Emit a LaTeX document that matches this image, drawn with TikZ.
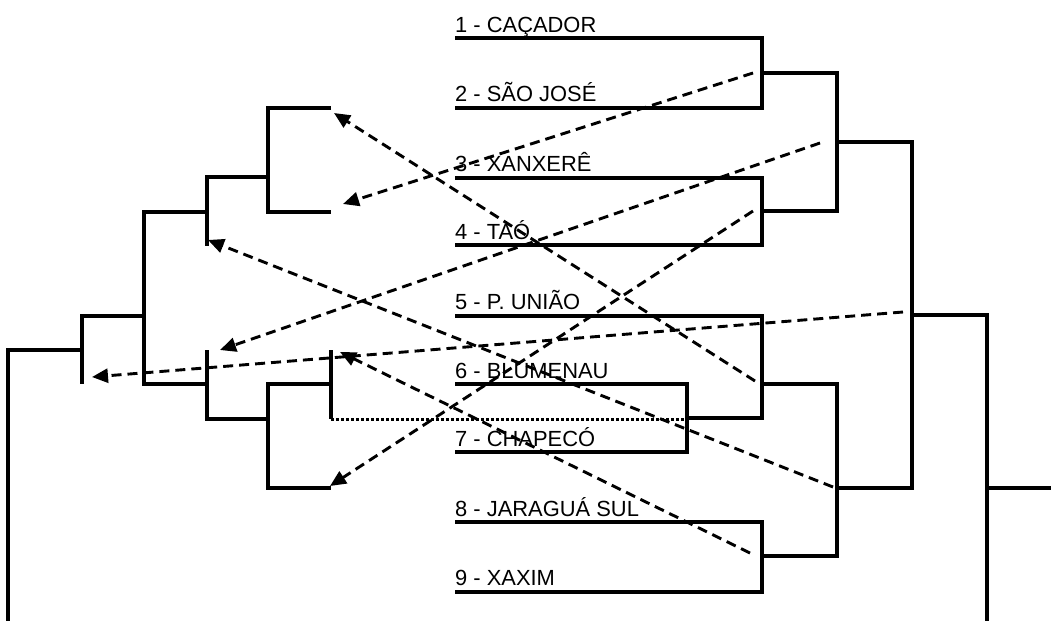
\documentclass[tikz,border=0pt]{standalone}
\usepackage{fontspec}
\setmainfont{Liberation Sans}
\usetikzlibrary{arrows.meta}
\begin{document}
\begin{tikzpicture}[x=1pt,y=-1pt,
  tree/.style={line width=3.4pt,line join=miter},
  move/.style={line width=2.9pt,dash pattern=on 10pt off 6pt,-{Triangle[length=16pt,width=14pt]}},
  dotline/.style={line width=3pt,dash pattern=on 3pt off 2pt},
  lbl/.style={inner sep=0pt,anchor=base west,font=\fontsize{21.9}{26}\selectfont}]
\useasboundingbox (0,0) rectangle (1051,621);
% labels
\node[lbl] (t1) at (455,32) {1 - CAÇADOR};
\node[lbl] (t2) at (455,101) {2 - SÃO JOSÉ};
\node[lbl] (t3) at (455,171) {3 - XANXERÊ};
\node[lbl] (t4) at (455,239) {4 - TAÓ};
\node[lbl] (t5) at (455,309) {5 - P. UNIÃO};
\node[lbl] (t6) at (455,378) {6 - BLUMENAU};
\node[lbl] (t7) at (455,446) {7 - CHAPECÓ};
\node[lbl] (t8) at (455,516) {8 - JARAGUÁ SUL};
\node[lbl] (t9) at (455,585) {9 - XAXIM};
% right tree
\draw[tree] (455,38) -- (762,38) -- (762,108) -- (455,108);
\draw[tree] (455,178) -- (762,178) -- (762,245) -- (455,245);
\draw[tree] (762,73) -- (837,73) -- (837,211) -- (762,211);
\draw[tree] (837,142) -- (912,142) -- (912,488) -- (837,488);
\draw[tree] (455,384) -- (687,384) -- (687,452) -- (455,452);
\draw[tree] (455,316) -- (762,316) -- (762,418) -- (687,418);
\draw[tree] (762,384) -- (837,384) -- (837,556) -- (762,556);
\draw[tree] (455,522) -- (762,522) -- (762,592) -- (455,592);
\draw[tree] (912,315) -- (987,315) -- (987,621);
\draw[tree] (987,488) -- (1051,488);
% left tree
\draw[tree] (331,108) -- (268,108) -- (268,212) -- (331,212);
\draw[tree] (268,177) -- (207,177) -- (207,246);
\draw[tree] (207,212) -- (144,212) -- (144,384) -- (207,384);
\draw[tree] (207,350) -- (207,419) -- (268,419);
\draw[tree] (331,384) -- (268,384) -- (268,488) -- (331,488);
\draw[tree] (331,350) -- (331,419);
\draw[dotline] (331,419) -- (687,419);
\draw[tree] (144,316) -- (82,316) -- (82,384);
\draw[tree] (82,350) -- (8,350) -- (8,621);
% arrow end points
\coordinate (s1) at (753,73);  \coordinate (e1) at (343,204);
\coordinate (s2) at (820,143); \coordinate (e2) at (220,350);
\coordinate (s3) at (753,211); \coordinate (e3) at (330,486);
\coordinate (s4) at (755,381); \coordinate (e4) at (334,113);
\coordinate (s5) at (833,487); \coordinate (e5) at (208,240);
\coordinate (s6) at (903,312); \coordinate (e6) at (92,377);
\coordinate (s7) at (750,553); \coordinate (e7) at (340,352);
\foreach \i in {1,...,7} \draw[move] (s\i) -- (e\i);
\end{tikzpicture}
\end{document}
